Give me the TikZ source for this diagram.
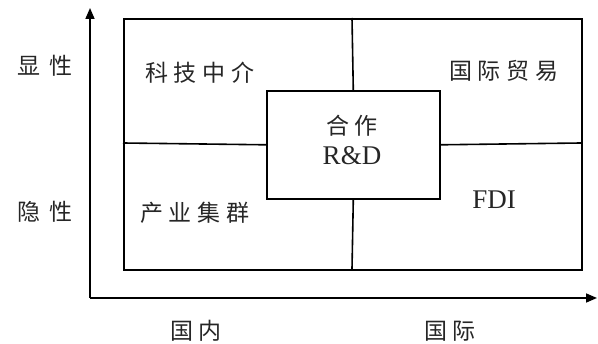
\documentclass[tikz,border=0pt]{standalone}
\usepackage{fontspec}
\setmainfont{Liberation Serif}
\newfontfamily\cjk{Noto Sans CJK SC}[Scale=1]
\usetikzlibrary{arrows.meta}
\tikzset{
  frame/.style={draw=black, line width=1.6pt},
  axis/.style={draw=black, line width=1.6pt, -{Triangle[length=11pt,width=9pt]}},
  lbl/.style={font=\cjk\fontsize{23}{24}\selectfont, inner sep=0pt, text=black!85},
  lat/.style={font=\fontsize{27}{28}\selectfont, inner sep=0pt, text=black!85},
}
\newcommand{\cgap}{\hspace{6pt}}
\begin{document}
\begin{tikzpicture}[x=1pt,y=-1pt]
\useasboundingbox (0,0) rectangle (598,344);
% axes
\coordinate (O) at (90,298);
\coordinate (Ytip) at (90,8);
\coordinate (Xtip) at (597,298);
\draw[axis] (O) -- (Ytip);
\draw[axis] (O) -- (Xtip);
% outer frame
\node[frame, minimum width=458pt, minimum height=251pt, inner sep=0pt, anchor=north west] (outer) at (123,18) {};
\coordinate (midtop) at (352,18);
\coordinate (midbot) at (352,269);
\coordinate (midleft) at (123,143);
\coordinate (midright) at (581,143);
% center box
\node[frame, fill=white, minimum width=173pt, minimum height=108pt, inner sep=0pt, anchor=north west] (center) at (266,90) {};
\draw[frame] (midtop) -- (center.north);
\draw[frame] (center.south) -- (midbot);
\draw[frame] (midleft) -- (center.west);
\draw[frame] (center.east) -- (midright);
% texts
\node[lbl] (xian) at (45,66) {显\hspace{9pt}性};
\node[lbl] (yin) at (45,212) {隐\hspace{9pt}性};
\node[lbl] (kj) at (200,73) {科\cgap 技\cgap 中\cgap 介};
\node[lbl] (gm) at (504,71) {国\cgap 际\cgap 贸\cgap 易};
\node[lbl] (hz) at (352,126) {合\cgap 作};
\node[lat] (rd) at (352,156) {R\&D};
\node[lbl] (cy) at (195,213) {产\cgap 业\cgap 集\cgap 群};
\node[lat] (fdi) at (494,200) {FDI};
\node[lbl] (gn) at (196,331) {国\cgap 内};
\node[lbl] (gj) at (450,331) {国\cgap 际};
\end{tikzpicture}
\end{document}
